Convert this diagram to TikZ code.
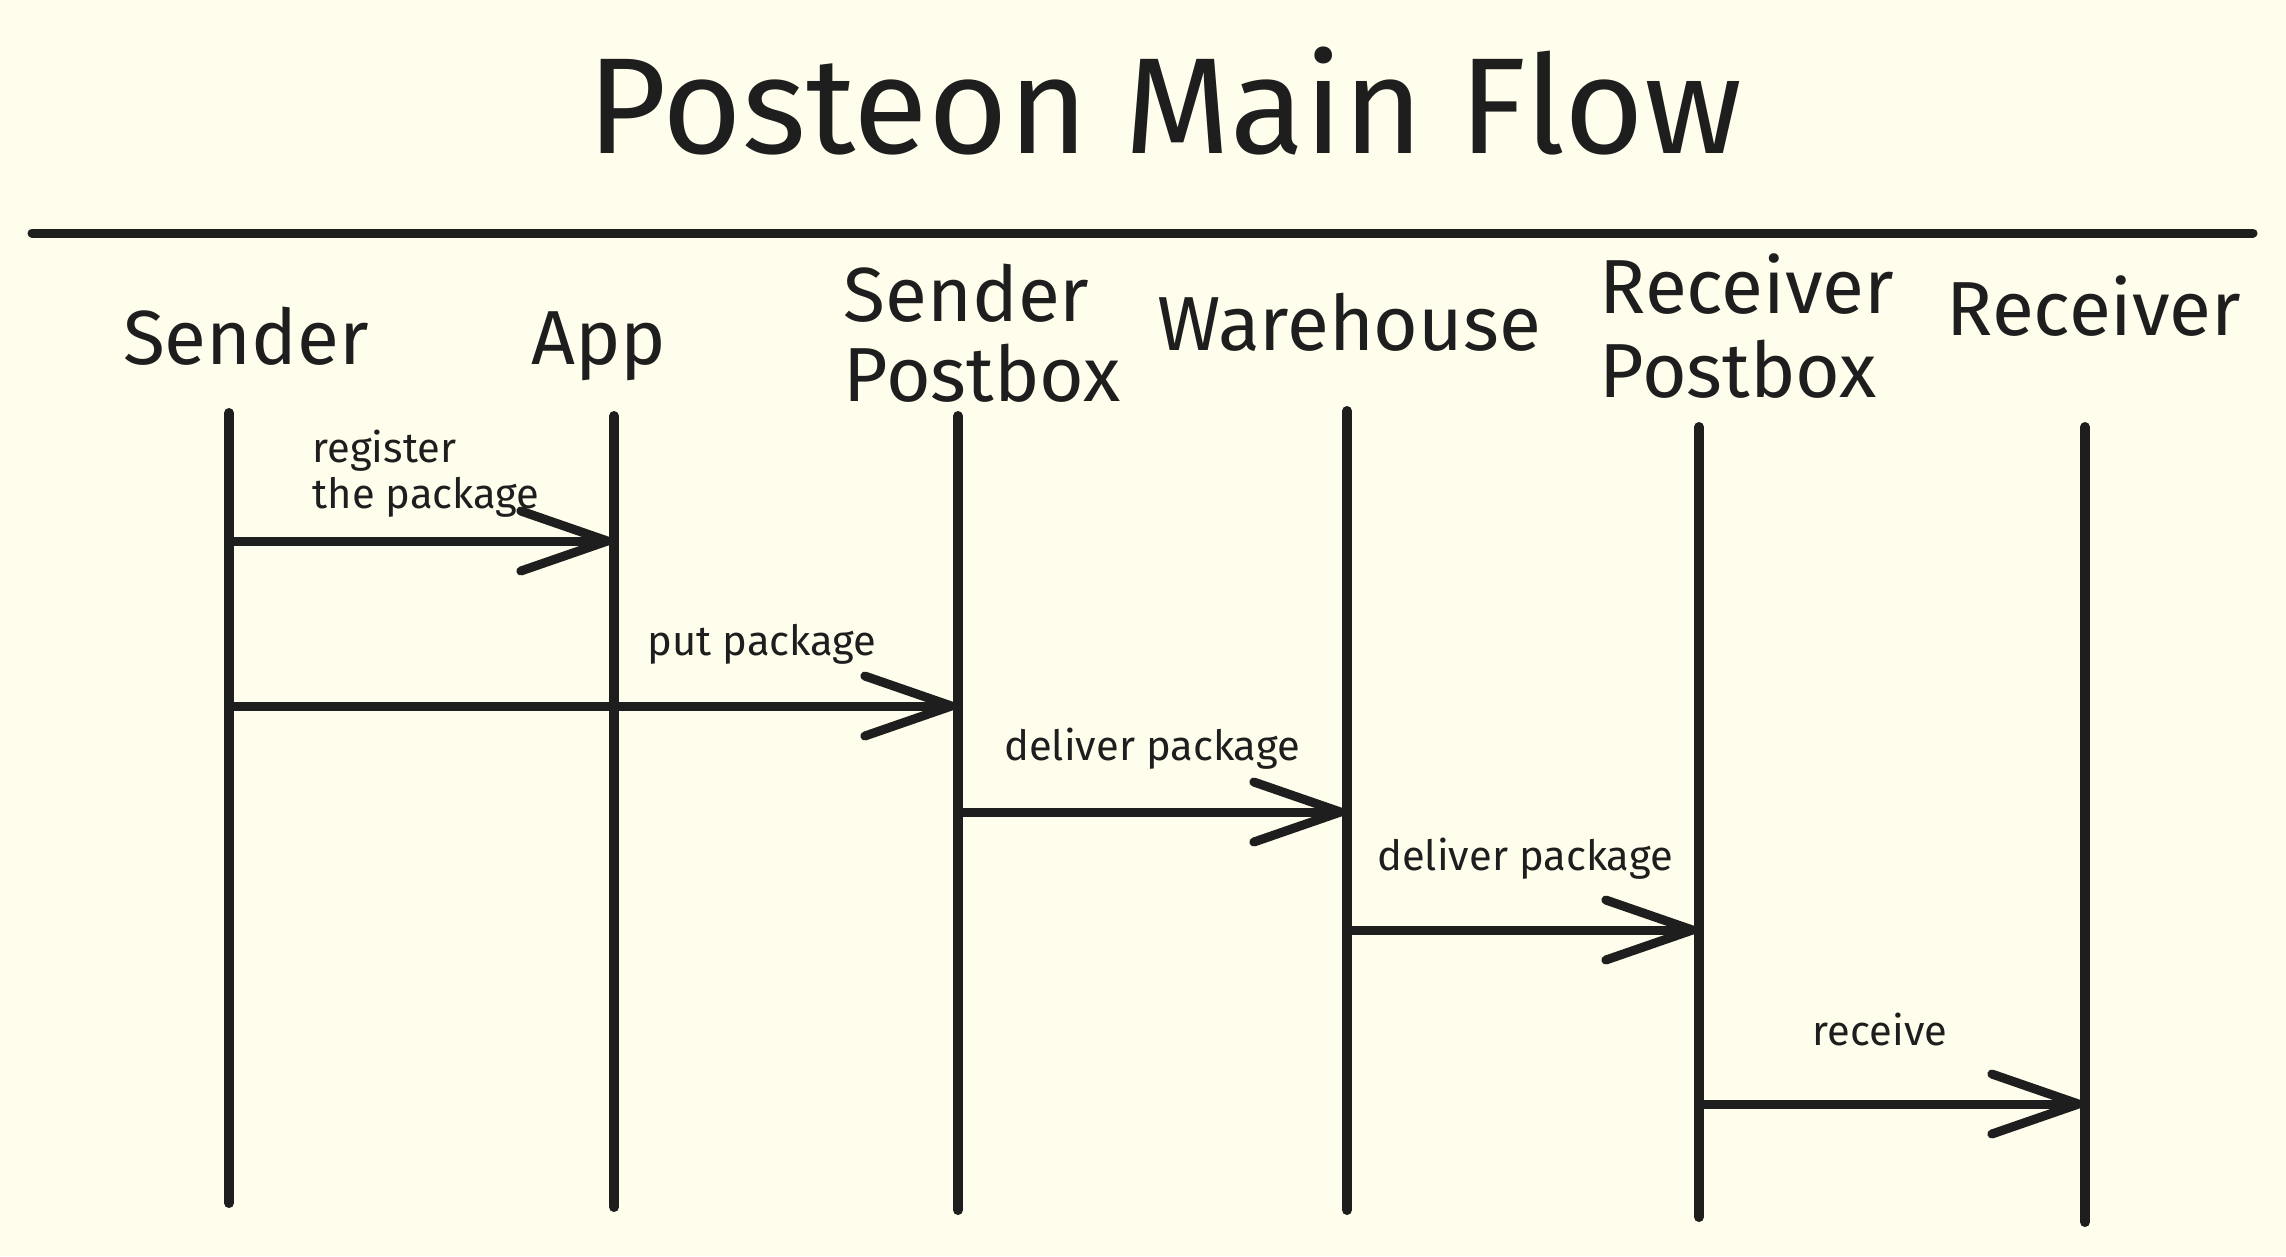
\documentclass[tikz,border=0pt]{standalone}
\usepackage{fontspec}
\setmainfont{Fira Sans}
\usetikzlibrary{arrows.meta}
\definecolor{bgc}{HTML}{FFFDEB}
\definecolor{ink}{HTML}{1E1E1E}
\tikzset{
  life/.style={draw=ink, line width=3pt, line cap=round},
  rule/.style={draw=ink, line width=2.7pt, line cap=round},
  msg/.style={draw=ink, line width=2.7pt, line cap=round,
    -{Straight Barb[length=26pt,width=18pt,round]}},
  actor/.style={text=ink, inner sep=0pt, font=\fontsize{23}{24}\selectfont},
  actor2/.style={text=ink, inner sep=0pt, align=left, font=\fontsize{23}{24}\selectfont},
  lbl/.style={text=ink, inner sep=0pt, font=\fontsize{12.5}{14}\selectfont},
  ttl/.style={text=ink, inner sep=0pt, font=\fontsize{41}{44}\selectfont}
}
\begin{document}
\begin{tikzpicture}[x=0.3pt,y=-0.3pt]
\fill[bgc] (0,0) rectangle (2286,1256);
\useasboundingbox (0,0) rectangle (2286,1256);

% title and rule
\node[ttl, anchor=base] (title) at (1165,153) {Posteon Main Flow};
\coordinate (ruleL) at (32,233);
\coordinate (ruleR) at (2253,233);
\draw[rule] (ruleL) -- (ruleR);

% actors
\node[actor, anchor=base] (aSender) at (246,364) {Sender};
\node[actor, anchor=base] (aApp) at (599,364) {App};
\node[actor2, anchor=base west] (aSPB) at (843,401) {Sender\\[0pt]Postbox};
\node[actor, anchor=base] (aWH) at (1349,350) {Warehouse};
\node[actor2, anchor=base west] (aRPB) at (1599,397) {Receiver\\[1pt]Postbox};
\node[actor, anchor=base] (aRecv) at (2094,335) {Receiver};

% lifelines
\coordinate (sT) at (229,413);  \coordinate (sB) at (229,1203);
\coordinate (aT) at (614,416);  \coordinate (aB) at (614,1207);
\coordinate (pT) at (958,416);  \coordinate (pB) at (958,1210);
\coordinate (wT) at (1347,411); \coordinate (wB) at (1347,1210);
\coordinate (qT) at (1699,427); \coordinate (qB) at (1699,1217);
\coordinate (rT) at (2085,427); \coordinate (rB) at (2085,1222);
\draw[life] (sT) -- (sB);
\draw[life] (aT) -- (aB);
\draw[life] (pT) -- (pB);
\draw[life] (wT) -- (wB);
\draw[life] (qT) -- (qB);
\draw[life] (rT) -- (rB);

% messages
\coordinate (m1s) at (229,541);  \coordinate (m1e) at (612,541);
\coordinate (m2s) at (229,706);  \coordinate (m2e) at (956,706);
\coordinate (m3s) at (958,812);  \coordinate (m3e) at (1345,812);
\coordinate (m4s) at (1347,930); \coordinate (m4e) at (1697,930);
\coordinate (m5s) at (1699,1104);\coordinate (m5e) at (2083,1104);
\draw[msg] (m1s) -- (m1e);
\draw[msg] (m2s) -- (m2e);
\draw[msg] (m3s) -- (m3e);
\draw[msg] (m4s) -- (m4e);
\draw[msg] (m5s) -- (m5e);

% message labels
\node[lbl, anchor=base west] (l1a) at (312,462) {register};
\node[lbl, anchor=base west] (l1b) at (312,508) {the package};
\node[lbl, anchor=base] (l2) at (762,655) {put package};
\node[lbl, anchor=base] (l3) at (1152,760) {deliver package};
\node[lbl, anchor=base] (l4) at (1525,870) {deliver package};
\node[lbl, anchor=base] (l5) at (1880,1045) {receive};
\end{tikzpicture}
\end{document}
